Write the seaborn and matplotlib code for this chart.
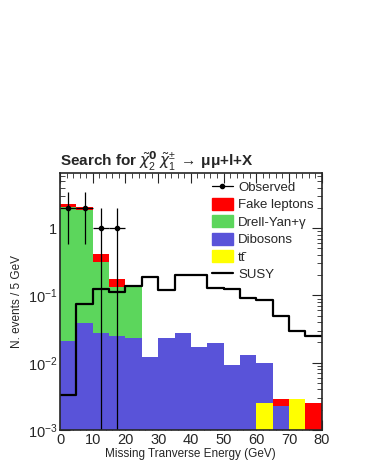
import numpy as np
import pandas as pd
import matplotlib
matplotlib.use("Agg")
import matplotlib.pyplot as plt
import seaborn as sns
from matplotlib.lines import Line2D
from matplotlib.patches import Patch

# bins of 5 GeV from 0 to 80
edges = list(range(0, 85, 5))
centers = [e + 2.5 for e in edges[:-1]]

# background components (events / 5 GeV)
ttbar = [0, 0, 0, 0, 0, 0, 0, 0, 0, 0, 0, 0, 0.0025, 0, 0.0029, 0]
dibosons = [0.021, 0.039, 0.0277, 0.0247, 0.0233, 0.012, 0.0233, 0.0277,
            0.0171, 0.0197, 0.0093, 0.013, 0.0074, 0.0023, 0, 0]
drell_yan = [2.08, 1.84, 0.29, 0.11, 0.115, 0, 0, 0,
             0, 0, 0, 0, 0, 0, 0, 0]
fakes = [0.18, 0.22, 0.095, 0.038, 0.004, 0, 0, 0,
         0, 0, 0, 0, 0, 0.0006, 0, 0.0025]

susy = [0.0033, 0.074, 0.123, 0.113, 0.139, 0.185, 0.12, 0.201,
        0.2, 0.127, 0.125, 0.093, 0.085, 0.05, 0.030, 0.025]

obs_x = [2.5, 7.5, 12.5, 17.5]
obs_y = [2.0, 2.0, 1.0, 1.0]
obs_err_up = [1.414, 1.414, 1.0, 1.0]
obs_err_down = [1.414, 1.414, 0.9999, 0.9999]

# first hue level ends up on top of the stack
labels = ["Fake leptons", "Drell-Yan+\u03b3", "Dibosons", "tt\u0304"]
colors = ["#ff0000", "#5cd65c", "#5953d9", "#ffff00"]

rows = []
for name, vals in zip(labels, [fakes, drell_yan, dibosons, ttbar]):
    for c, v in zip(centers, vals):
        rows.append({"met": c, "w": v, "comp": name})
df = pd.DataFrame(rows)

sns.set_style("ticks")
plt.rcParams["font.family"] = ["Liberation Sans", "DejaVu Sans"]
plt.rcParams["mathtext.fontset"] = "custom"
plt.rcParams["mathtext.rm"] = "Liberation Sans"

fig = plt.figure(figsize=(3.66, 4.73), dpi=100)
ax = fig.add_axes([0.164, 0.091, 0.715, 0.544])

sns.histplot(data=df, x="met", weights="w", hue="comp", hue_order=labels,
             palette=colors, bins=edges, multiple="stack", element="bars",
             linewidth=0, alpha=1, legend=False, ax=ax)

sns.histplot(x=centers, weights=susy, bins=edges, element="step", fill=False,
             color="black", linewidth=1.6, ax=ax)

ax.errorbar(obs_x, obs_y, xerr=2.5, yerr=[obs_err_down, obs_err_up],
            fmt="o", color="black", markersize=3, elinewidth=0.9, capsize=0)

ax.set_yscale("log")
ax.set_xlim(0, 80)
ax.set_ylim(1e-3, 6.7)
ax.set_xticks(range(0, 90, 10))
ax.set_yticks([1e-3, 1e-2, 1e-1, 1])
ax.set_yticklabels([r"$\mathrm{10^{-3}}$", r"$\mathrm{10^{-2}}$",
                    r"$\mathrm{10^{-1}}$", "1"])
ax.minorticks_on()
ax.tick_params(which="both", direction="in", top=True, right=True, labelsize=10.5, pad=2)
ax.tick_params(which="major", length=7, width=0.8)
ax.tick_params(which="minor", length=3.5, width=0.6)
for s in ax.spines.values():
    s.set_linewidth(1.2)

ax.set_xlabel("Missing Tranverse Energy (GeV)", fontsize=8.5, labelpad=1)
ax.set_ylabel("N. events / 5 GeV", fontsize=8.5)
ax.yaxis.set_label_coords(-0.14, 0.5)

ax.set_title("Search for " + r"$\tilde{\chi}_2^{\mathbf{0}}\,\tilde{\chi}_1^{\pm}\,\rightarrow\,$"
             + "\u03bc\u03bc+l+X",
             fontsize=11, fontweight="bold", loc="left", pad=4)

handles = [
    Line2D([], [], color="black", marker="o", markersize=3, linewidth=0.9),
    Patch(color=colors[0]),
    Patch(color=colors[1]),
    Patch(color=colors[2]),
    Patch(color=colors[3]),
    Line2D([], [], color="black", linewidth=1.6),
]
names = ["Observed", "Fake leptons", "Drell-Yan+\u03b3", "Dibosons", "tt\u0304", "SUSY"]
ax.legend(handles, names, loc="upper right", frameon=False, fontsize=9.5,
          handlelength=1.6, handleheight=1.0, handletextpad=0.4,
          labelspacing=0.3, borderaxespad=0.2, bbox_to_anchor=(1.0, 1.0))

fig.savefig("out.png", dpi=100)
